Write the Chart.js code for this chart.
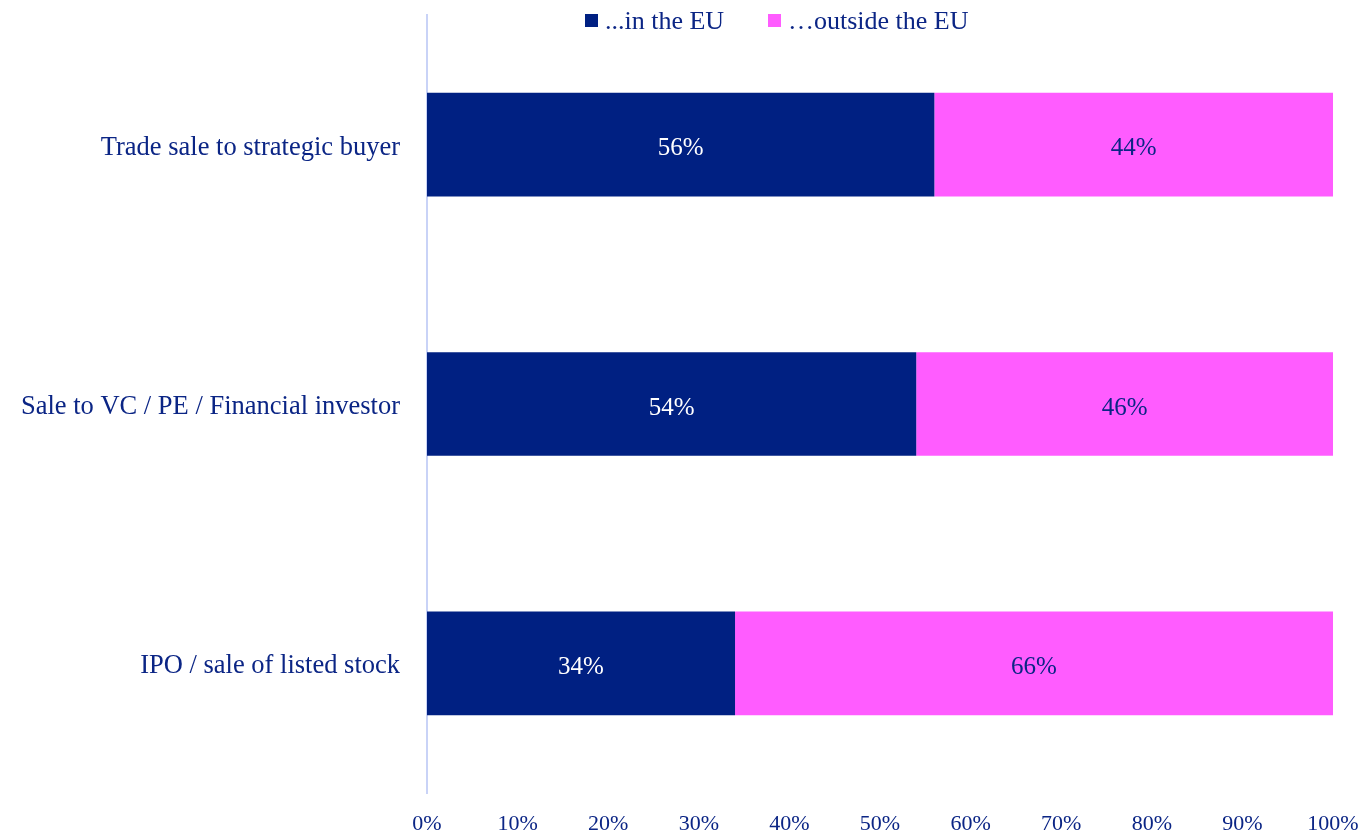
<!DOCTYPE html>
<html>
<head>
<meta charset="utf-8">
<script src="https://cdn.jsdelivr.net/npm/chart.js@4"></script>
<style>
  html, body { margin: 0; padding: 0; background: #fff; }
  #wrap { position: relative; width: 1362px; height: 832px; }
  .item { position: absolute; top: 6px; font-family: "Liberation Serif", serif; font-size: 26px; color: #0b2585; white-space: nowrap; }
  .item span.box { display: inline-block; width: 13px; height: 13px; margin-right: 7px; vertical-align: 2px; }
</style>
</head>
<body>
<div id="wrap">
  <canvas id="chart" width="1362" height="832"></canvas>
  <div id="legend"></div>
</div>
<script>
// Dados
const categories = ["Trade sale to strategic buyer", "Sale to VC / PE / Financial investor", "IPO / sale of listed stock"];
const inEU = [56, 54, 34];
const outsideEU = [44, 46, 66];
const seriesNames = ["...in the EU", "\u2026outside the EU"];
const tickLabels = ["0%", "10%", "20%", "30%", "40%", "50%", "60%", "70%", "80%", "90%", "100%"];

const NAVY = "#002082";
const PINK = "#ff5cff";
const TEXT = "#0b2585";
const FONT = "Liberation Serif";

// rótulos dentro das barras
const barLabels = {
  id: "barLabels",
  afterDatasetsDraw(chart){
    const ctx = chart.ctx;
    ctx.save();
    ctx.font = `25px "${FONT}"`;
    ctx.textAlign = "center";
    ctx.textBaseline = "middle";
    chart.data.datasets.forEach((ds, i) => {
      const meta = chart.getDatasetMeta(i);
      meta.data.forEach((bar, j) => {
        const x = (bar.x + bar.base) / 2;
        ctx.fillStyle = i === 0 ? "#ffffff" : TEXT;
        ctx.fillText(ds.data[j] + "%", x, bar.y + 4);
      });
    });
    ctx.restore();
  }
};

function criarLegenda(){
  const colors = [NAVY, PINK];
  const lefts = [585, 768];
  document.getElementById("legend").innerHTML = seriesNames.map((n, i) =>
    `<div class="item" style="left:${lefts[i]}px"><span class="box" style="background:${colors[i]}"></span>${n}</div>`
  ).join("");
}

// sem padding extra das escalas
function zeroPad(scale){
  scale.paddingTop = 0;
  scale.paddingBottom = 0;
  scale.paddingLeft = 0;
  scale.paddingRight = 0;
}

function criarGrafico(){
  new Chart(document.getElementById("chart"), {
    type: "bar",
    data: {
      labels: categories,
      datasets: [
        { label: seriesNames[0], data: inEU, backgroundColor: NAVY, barPercentage: 0.4, categoryPercentage: 1 },
        { label: seriesNames[1], data: outsideEU, backgroundColor: PINK, barPercentage: 0.4, categoryPercentage: 1 }
      ]
    },
    options: {
      indexAxis: "y",
      responsive: false,
      animation: false,
      layout: { padding: { top: 15, right: 29, left: 0, bottom: 0 } },
      plugins: {
        legend: { display: false },
        tooltip: { enabled: false }
      },
      scales: {
        x: {
          stacked: true,
          min: 0,
          max: 100,
          grid: { display: false, drawTicks: false },
          border: { display: false },
          ticks: {
            stepSize: 10,
            padding: 18,
            color: TEXT,
            font: { family: FONT, size: 22 },
            maxRotation: 0,
            autoSkip: false,
            callback: (v, i) => tickLabels[i]
          },
          afterFit: (scale) => { scale.height = 39; zeroPad(scale); }
        },
        y: {
          stacked: true,
          grid: { display: false, drawTicks: false },
          border: { display: true, color: "#c9d3f7", width: 2 },
          ticks: {
            padding: 27,
            labelOffset: 3,
            color: TEXT,
            font: { family: FONT, size: 26.5 }
          },
          afterFit: (scale) => { scale.width = 427; zeroPad(scale); }
        }
      }
    },
    plugins: [barLabels]
  });
}

document.addEventListener("DOMContentLoaded", () => {
  criarLegenda();
  criarGrafico();
});
</script>
</body>
</html>
